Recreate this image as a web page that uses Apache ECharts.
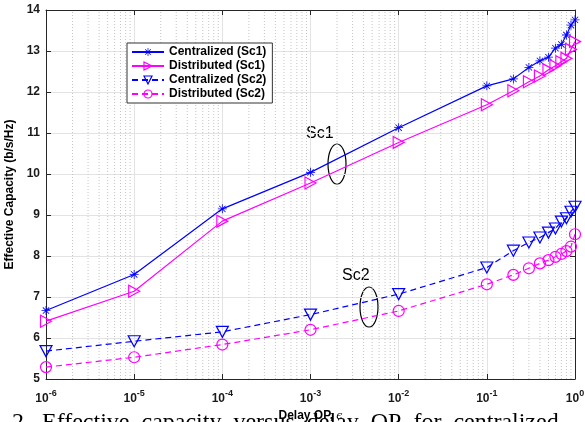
<!DOCTYPE html>
<html>
<head>
<meta charset="utf-8">
<script src="https://cdn.jsdelivr.net/npm/echarts@6/dist/echarts.min.js"></script>
<style>html,body{margin:0;padding:0;background:#fff}#c{width:585px;height:422px}</style>
</head>
<body>
<div id="c"></div>
<script>
// ---- data ----
var xValues = [1e-6, 1e-5, 1e-4, 1e-3, 1e-2, 0.1, 0.2, 0.3, 0.4, 0.5, 0.6, 0.7, 0.8, 0.9, 1.0];
var centSc1 = [6.67, 7.55, 9.15, 10.04, 11.13, 12.15, 12.32, 12.60, 12.76, 12.85, 13.07, 13.16, 13.39, 13.63, 13.76];
var distSc1 = [6.41, 7.14, 8.85, 9.78, 10.77, 11.69, 12.03, 12.25, 12.39, 12.54, 12.64, 12.74, 12.82, 13.04, 13.23];
var centSc2 = [5.68, 5.92, 6.15, 6.57, 7.07, 7.72, 8.13, 8.33, 8.45, 8.57, 8.67, 8.84, 8.92, 9.08, 9.20];
var distSc2 = [5.29, 5.53, 5.84, 6.20, 6.66, 7.31, 7.54, 7.70, 7.82, 7.90, 7.98, 8.05, 8.12, 8.23, 8.53];
var seriesNames = ['Centralized (Sc1)', 'Distributed (Sc1)', 'Centralized (Sc2)', 'Distributed (Sc2)'];
var yTicks = [5, 6, 7, 8, 9, 10, 11, 12, 13, 14];
var minorFactors = [2, 3, 4, 5, 6, 7, 8, 9];
var minorDecades = [-6, -5, -4, -3, -2, -1];

function pairs(ys) { return xValues.map(function (x, i) { return [x, ys[i]]; }); }

// minor log grid lines, drawn as vertical segments through the axes' scales
var minorData = [];
minorDecades.forEach(function (d) {
  minorFactors.forEach(function (k) {
    var v = k * Math.pow(10, d);
    minorData.push([v, 5], [v, 14], '-');
  });
});

var FONT = 'Liberation Sans, Arial, Helvetica, sans-serif';
var BLUE = '#0000ff', MAG = '#ff00ff';
var CLEAR = 'rgba(255,255,255,0)';
var asterisk = 'path://M-0.9,-10L0.9,-10L0.9,10L-0.9,10Z M-10,-0.9L10,-0.9L10,0.9L-10,0.9Z M-6.4,-7.7L7.7,6.4L6.4,7.7L-7.7,-6.4Z M-7.7,6.4L6.4,-7.7L7.7,-6.4L-6.4,7.7Z';

var chart = echarts.init(document.getElementById('c'), null, {renderer: 'canvas'});
var axisCol = '#262626';
var option = {
  animation: false,
  backgroundColor: '#fff',
  textStyle: {fontFamily: FONT},
  grid: {left: 46, right: 10, top: 10, bottom: 43, containLabel: false, outerBoundsMode: 'none'},
  legend: {
    orient: 'vertical', left: 127, top: 43,
    backgroundColor: '#fff', borderColor: '#333', borderWidth: 1,
    padding: [3, 6, 3, 4], itemGap: 2, itemWidth: 32, itemHeight: 10,
    textStyle: {fontFamily: FONT, fontWeight: 'bold', fontSize: 12, color: '#000'},
    itemStyle: {color: CLEAR, borderColor: 'inherit', borderWidth: 1.2},
    data: [
      {name: seriesNames[0], itemStyle: {color: BLUE, borderWidth: 0}},
      {name: seriesNames[1]},
      {name: seriesNames[2]},
      {name: seriesNames[3]}
    ]
  },
  xAxis: [{
    type: 'log', logBase: 10, min: 1e-6, max: 1,
    name: '{a|Delay OP, }{e|ϵ}', nameLocation: 'middle', nameGap: 26,
    nameTextStyle: {rich: {
      a: {fontFamily: FONT, fontWeight: 'bold', fontSize: 12, color: '#000'},
      e: {fontFamily: 'DejaVu Serif, serif', fontStyle: 'italic', fontSize: 11, color: '#000'}
    }},
    axisLine: {show: true, lineStyle: {color: axisCol}},
    axisTick: {show: true, inside: true, length: 5, lineStyle: {color: axisCol}},
    axisLabel: {
      margin: 10,
      formatter: function (v) { var e = Math.round(Math.log10(v)); return '{b|10}{s|' + e + '}'; },
      rich: {
        b: {fontFamily: FONT, fontWeight: 'bold', fontSize: 12, color: '#1a1a1a', verticalAlign: 'bottom'},
        s: {fontFamily: FONT, fontWeight: 'bold', fontSize: 9, color: '#1a1a1a', verticalAlign: 'bottom', padding: [0, 0, 7, 0]}
      }
    },
    splitLine: {show: true, lineStyle: {color: '#e3e3e3', width: 1}}
  }, {
    type: 'log', logBase: 10, min: 1e-6, max: 1, position: 'top',
    axisLine: {show: true, lineStyle: {color: axisCol}},
    axisTick: {show: true, inside: true, length: 5, lineStyle: {color: axisCol}},
    axisLabel: {show: false}, splitLine: {show: false}
  }],
  yAxis: [{
    type: 'value', min: 5, max: 14, interval: 1,
    name: 'Effective Capacity (b/s/Hz)', nameLocation: 'middle', nameGap: 28,
    nameTextStyle: {fontFamily: FONT, fontWeight: 'bold', fontSize: 12, color: '#000'},
    axisLine: {show: true, lineStyle: {color: axisCol}},
    axisTick: {show: true, inside: true, length: 5, lineStyle: {color: axisCol}},
    axisLabel: {margin: 6, fontFamily: FONT, fontWeight: 'bold', fontSize: 12, color: '#1a1a1a',
      formatter: function (v) { return yTicks.indexOf(v) >= 0 ? String(v) : ''; }},
    splitLine: {show: true, lineStyle: {color: '#e3e3e3', width: 1}}
  }, {
    type: 'value', min: 5, max: 14, interval: 1, position: 'right',
    axisLine: {show: true, lineStyle: {color: axisCol}},
    axisTick: {show: true, inside: true, length: 5, lineStyle: {color: axisCol}},
    axisLabel: {show: false}, splitLine: {show: false}
  }],
  series: [{
    name: '__minor', type: 'line', data: minorData, silent: true, z: 0,
    symbol: 'none', connectNulls: false,
    lineStyle: {type: [1, 2], color: '#c4c4c4', width: 1},
    emphasis: {disabled: true}
  }, {
    name: seriesNames[0], type: 'line', data: pairs(centSc1), z: 3,
    symbol: asterisk, symbolSize: 9,
    lineStyle: {color: BLUE, width: 1.2, type: 'solid'},
    itemStyle: {color: BLUE, borderWidth: 0}
  }, {
    name: seriesNames[1], type: 'line', data: pairs(distSc1), z: 3,
    symbol: 'triangle', symbolRotate: -90, symbolSize: [12, 11],
    lineStyle: {color: MAG, width: 1.2, type: 'solid'},
    itemStyle: {color: CLEAR, borderColor: MAG, borderWidth: 1.2}
  }, {
    name: seriesNames[2], type: 'line', data: pairs(centSc2), z: 3,
    symbol: 'triangle', symbolRotate: 180, symbolSize: [12, 11],
    lineStyle: {color: BLUE, width: 1.2, type: [6, 4]},
    itemStyle: {color: CLEAR, borderColor: BLUE, borderWidth: 1.2}
  }, {
    name: seriesNames[3], type: 'line', data: pairs(distSc2), z: 3,
    symbol: 'circle', symbolSize: 11,
    lineStyle: {color: MAG, width: 1.2, type: [6, 4]},
    itemStyle: {color: CLEAR, borderColor: MAG, borderWidth: 1.2}
  }],
  graphic: [
    {type: 'text', left: 306, top: 126, style: {text: 'Sc1', font: '16px ' + FONT, fill: '#000'}},
    {type: 'ellipse', shape: {cx: 337, cy: 164, rx: 9, ry: 20}, style: {fill: 'none', stroke: '#000', lineWidth: 1.2}},
    {type: 'text', left: 342, top: 268, style: {text: 'Sc2', font: '16px ' + FONT, fill: '#000'}},
    {type: 'ellipse', shape: {cx: 369, cy: 307, rx: 9, ry: 20}, style: {fill: 'none', stroke: '#000', lineWidth: 1.2}},
    {type: 'text', left: 12, top: 411, z: -1, style: {text: '2.  Effective  capacity  versus  delay  OP  for  centralized', font: '24px Liberation Serif, Times New Roman, serif', fill: '#000'}}
  ]
};
chart.setOption(option);
</script>
</body>
</html>
